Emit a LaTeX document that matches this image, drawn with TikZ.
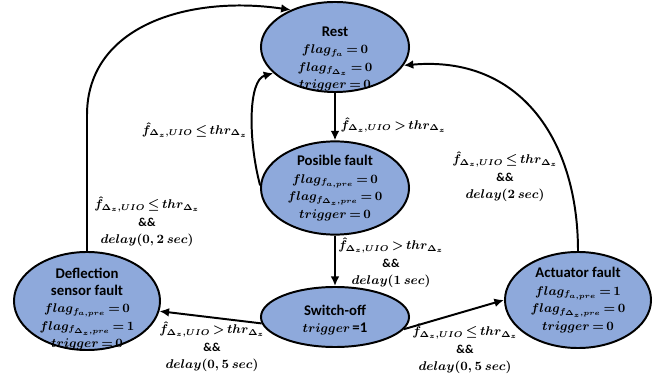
\documentclass[tikz,border=0pt]{standalone}
\usepackage{fontspec}
\setmainfont{Carlito}
\usepackage{amsmath,amssymb}
\usetikzlibrary{shapes.geometric, arrows.meta}

\definecolor{stateblue}{RGB}{142,169,219}
\newcommand{\sttitle}[1]{{\fontsize{10.5}{12.5}\selectfont\bfseries #1}}
\newcommand{\mathsetup}{\boldmath\thickmuskip=3mu\relax}

\tikzset{
  state/.style={ellipse, draw=black, line width=1.4pt, fill=stateblue, inner sep=0pt},
  statetext/.style={align=center, font=\fontsize{9}{12.4}\selectfont\mathsetup},
  guard/.style={align=center, inner sep=1pt, font=\fontsize{8.6}{12.4}\selectfont\mathsetup},
  trans/.style={line width=1.4pt, -{Latex[length=2.4mm,width=2.2mm]}},
}

\begin{document}
\begin{tikzpicture}[x=0.025cm, y=-0.025cm]
        \useasboundingbox (0,0) rectangle (662,379);

        % states
        \node[state, minimum width=3.7cm, minimum height=2.25cm] (rest) at (335,47) {};
        \node[state, minimum width=3.7cm, minimum height=2.33cm] (pos) at (335,188) {};
        \node[state, minimum width=3.7cm, minimum height=1.5cm] (sw) at (335,317) {};
        \node[state, minimum width=3.65cm, minimum height=2.45cm] (defl) at (87,301) {};
        \node[state, minimum width=3.65cm, minimum height=2.4cm] (act) at (578,300) {};

        \node[statetext] (resttxt) at (335,59) {\sttitle{Rest}\\ $flag_{f_a}=0$\\ $flag_{f_{\Delta_z}}=0$\\ $trigger=0$};
        \node[statetext] (postxt) at (335,188) {\sttitle{Posible fault}\\ $flag_{f_{a,pre}}=0$\\ $flag_{f_{\Delta_z,pre}}=0$\\ $trigger=0$};
        \node[statetext] (swtxt) at (335,320) {\sttitle{Switch-off}\\ $trigger$\,\sttitle{=1}};
        \node[statetext] (defltxt) at (87,309) {\sttitle{Deflection}\\ \sttitle{sensor fault}\\ $flag_{f_{a,pre}}=0$\\ $flag_{f_{\Delta_z,pre}}=1$\\ $trigger=0$};
        \node[statetext] (acttxt) at (578,300) {\sttitle{Actuator fault}\\ $flag_{f_{a,pre}}=1$\\ $flag_{f_{\Delta_z,pre}}=0$\\ $trigger=0$};

        % transitions
        \coordinate (dturn) at (87,115);
        \draw[trans] (rest.south) -- (pos.north);
        \draw[trans] (pos.south) -- (sw.north);
        \draw[trans] (pos.178) .. controls (248,140) and (248,80) .. (rest.203);
        \draw[trans] (defl.north) -- (dturn) .. controls (87,25) and (190,-5) .. (rest.140);
        \draw[trans] (act.north) .. controls (578,140) and (520,55) .. (rest.-15);
        \draw[trans] (sw.185) -- (defl.-8);
        \draw[trans] (sw.-10) -- (act.180);

        % guards
        \node[guard, anchor=west] (g1) at (339,125) {$\hat{f}_{\Delta_z,UIO} > thr_{\Delta_z}$};
        \node[guard, anchor=east] (g2) at (249,130) {$\hat{f}_{\Delta_z,UIO} \le thr_{\Delta_z}$};
        \node[guard] (g3) at (147,222) {$\hat{f}_{\Delta_z,UIO} \le thr_{\Delta_z}$\\ $\&\&$\\ $delay(0,2\ sec)$};
        \node[guard] (g4) at (391,263) {$\hat{f}_{\Delta_z,UIO} > thr_{\Delta_z}$\\ $\&\&$\\ $delay(1\ sec)$};
        \node[guard] (g5) at (505,177) {$\hat{f}_{\Delta_z,UIO} \le thr_{\Delta_z}$\\ $\&\&$\\ $delay(2\ sec)$};
        \node[guard] (g6) at (212,347) {$\hat{f}_{\Delta_z,UIO} > thr_{\Delta_z}$\\ $\&\&$\\ $delay(0,5\ sec)$};
        \node[guard] (g7) at (465,349) {$\hat{f}_{\Delta_z,UIO} \le thr_{\Delta_z}$\\ $\&\&$\\ $delay(0,5\ sec)$};
\end{tikzpicture}
\end{document}
